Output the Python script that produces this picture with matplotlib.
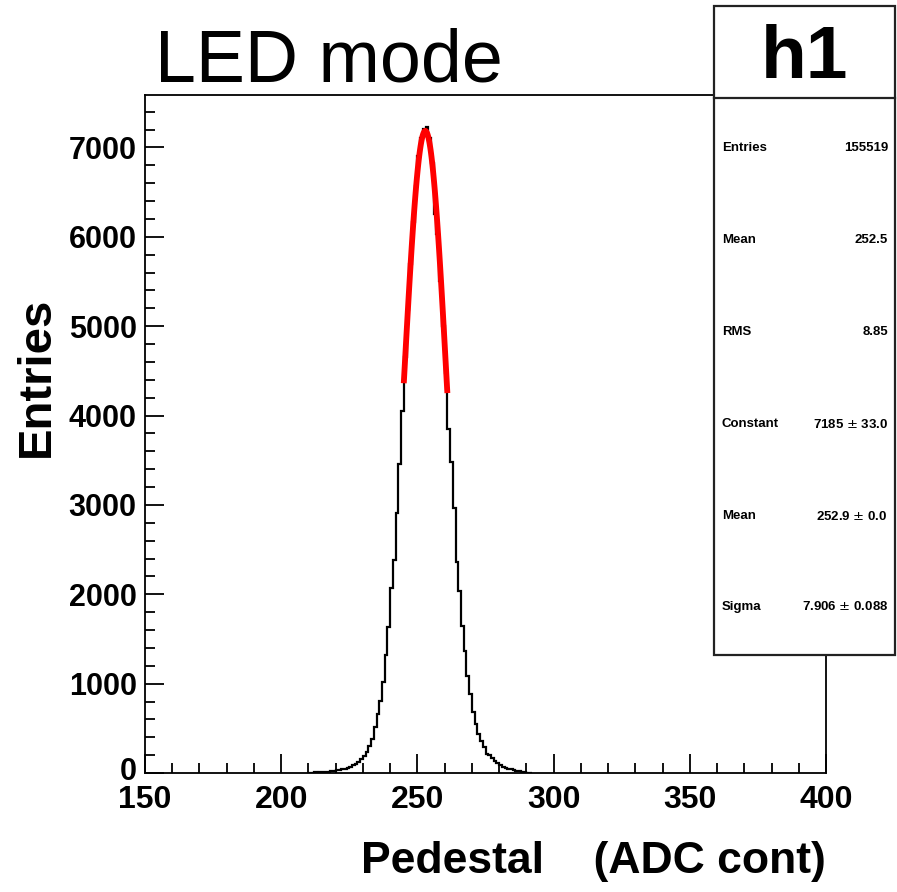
import numpy as np
import matplotlib
matplotlib.use("Agg")
import matplotlib.pyplot as plt
import matplotlib.transforms as mtransforms
from matplotlib.patches import Rectangle
from matplotlib.ticker import MultipleLocator

plt.rcParams['font.family'] = ['Liberation Sans', 'DejaVu Sans']

# ---- data -------------------------------------------------------------
first_bin = 210          # left edge of first listed bin (bin width 1 ADC)
counts = [0, 3, 6, 4, 10, 12, 14, 16, 20, 26,
          31, 36, 42, 50, 57, 70, 84, 100, 124, 160,
          195, 235, 300, 380, 510, 656, 809, 1022, 1316, 1629,
          2073, 2383, 2912, 3456, 4053, 4650, 5180, 5690, 6160, 6570,
          6900, 7110, 7210, 7225, 7100, 6820, 6260, 6030, 5500, 5000,
          4480, 3844, 3482, 2968, 2364, 2036, 1648, 1368, 1089, 884,
          686, 548, 436, 358, 295, 213, 201, 172, 138, 116,
          89, 71, 60, 50, 41, 34, 26, 20, 14, 8,
          5, 3]

fit_constant = 7185.0
fit_mean = 252.9
fit_sigma = 7.906
fit_range = (245, 261)

stat_labels = ["Entries", "Mean", "RMS", "Constant", "Mean", "Sigma"]
stat_values = ["155519", "252.5", "8.85", "7185 $\\pm$ 33.0",
               "252.9 $\\pm$ 0.0", "7.906 $\\pm$ 0.088"]

x_ticks = [150, 200, 250, 300, 350, 400]
y_ticks = [0, 1000, 2000, 3000, 4000, 5000, 6000, 7000]
title = "LED mode"
hist_name = "h1"
x_label = "Pedestal    (ADC cont)"
y_label = "Entries"

# ---- figure -----------------------------------------------------------
W, H = 897, 892
fig = plt.figure(figsize=(W / 100, H / 100), dpi=100)
L, R, T, B = 145, 826, 95, 773
ax = fig.add_axes([L / W, 1 - B / H, (R - L) / W, (B - T) / H])

counts = np.array(counts, dtype=float)
edges = first_bin + np.arange(len(counts) + 1)
ax.stairs(counts, edges, color='black', linewidth=1.6, baseline=None, zorder=3)

# fitted gaussian over the fit range
gauss = lambda x: fit_constant * np.exp(-0.5 * ((x - fit_mean) / fit_sigma) ** 2)
fx = np.linspace(fit_range[0], fit_range[1], 100)
ax.plot(fx, gauss(fx), color='#ff0000', linewidth=4.2, solid_capstyle='butt', zorder=4)

ax.set_xlim(150, 400)
ax.set_ylim(0, 1.05 * counts.max())
ax.set_xticks(x_ticks)
ax.set_yticks(y_ticks)
ax.xaxis.set_minor_locator(MultipleLocator(10))
ax.yaxis.set_minor_locator(MultipleLocator(200))
ax.tick_params(which='both', direction='in', top=False, right=False, width=1.3, color='black')
ax.tick_params(which='major', length=14)
ax.tick_params(which='minor', length=7.5)
ax.tick_params(axis='y', which='major', pad=6)
ax.tick_params(axis='x', which='major', pad=9)
for lab in ax.get_xticklabels():
    lab.set_fontsize(23)
    lab.set_fontweight('bold')
ylabs = ax.get_yticklabels()
for lab in ylabs:
    lab.set_fontsize(22)
    lab.set_fontweight('bold')
# lift the "0" label a little so it does not collide with "150"
shift = mtransforms.ScaledTranslation(0, 4 / 100, fig.dpi_scale_trans)
ylabs[0].set_transform(ylabs[0].get_transform() + shift)
for s in ax.spines.values():
    s.set_linewidth(1.3)

# axis titles
fig.text(R / W, 1 - 862 / H, x_label, ha='right', va='center',
         fontsize=32, fontweight='bold')
fig.text(37 / W, 1 - 377 / H, y_label, ha='center', va='center', rotation=90,
         fontsize=34, fontweight='bold')

# title
fig.text(155 / W, 1 - 82 / H, title, ha='left', va='baseline', fontsize=53)

# stats box
bx0, bx1, by0, by1, hy = 714, 895, 6, 655, 98
box = Rectangle((bx0 / W, 1 - by1 / H), (bx1 - bx0) / W, (by1 - by0) / H,
                transform=fig.transFigure, facecolor='white', edgecolor='#222222',
                linewidth=1.6, zorder=10)
fig.add_artist(box)
fig.add_artist(plt.Line2D([bx0 / W, bx1 / W], [1 - hy / H, 1 - hy / H],
                          transform=fig.transFigure, color='#222222', linewidth=1.6,
                          zorder=11))
fig.text((bx0 + bx1) / 2 / W, 1 - 58 / H, hist_name, ha='center', va='center',
         fontsize=54, fontweight='bold', zorder=12)
row_y = [148, 240, 332, 424, 516, 607]
for yy, lab, val in zip(row_y, stat_labels, stat_values):
    fig.text(722 / W, 1 - yy / H, lab, ha='left', va='center', fontsize=9.5,
             fontweight='bold', zorder=12)
    fig.text(888 / W, 1 - yy / H, val, ha='right', va='center', fontsize=9.5,
             fontweight='bold', zorder=12)

fig.savefig("out.png", dpi=100, facecolor='white')
